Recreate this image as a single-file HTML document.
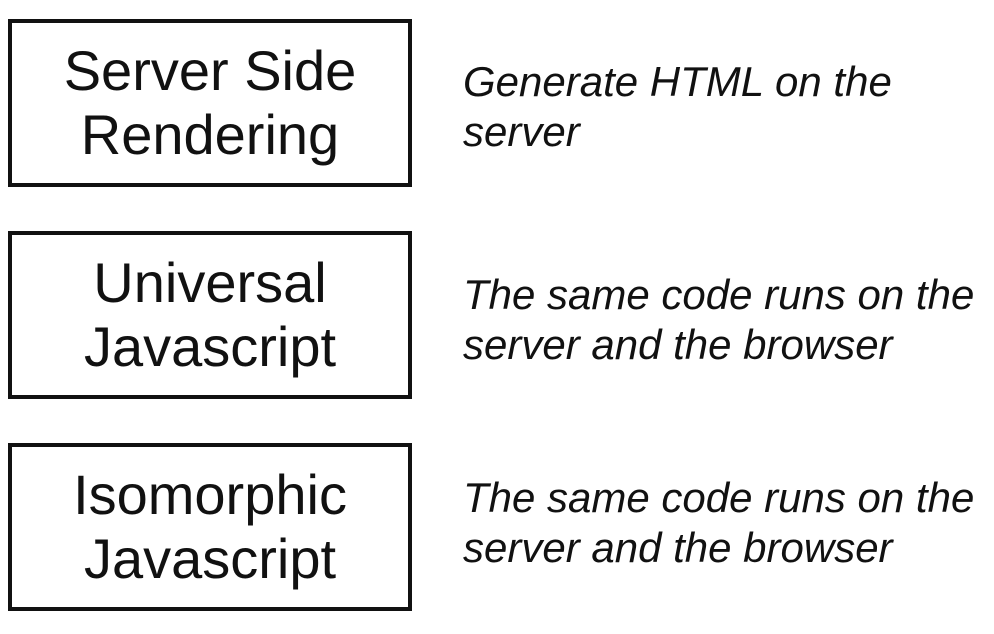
<!DOCTYPE html>
<html><head><style>
html,body{margin:0;padding:0;background:#fff;}
body{width:994px;height:634px;position:relative;overflow:hidden;font-family:"Liberation Sans",Arial,sans-serif;}
.box{position:absolute;left:8px;width:396px;height:160px;border:4px solid #111;display:flex;align-items:center;justify-content:center;text-align:center;font-size:56px;line-height:64px;color:#111;box-sizing:content-box;}
.desc{position:absolute;left:463px;font-style:italic;font-size:42px;line-height:50px;color:#111;white-space:nowrap;}
</style></head><body>
<div class="box" style="top:19px;">Server Side<br>Rendering</div>
<div class="box" style="top:231px;">Universal<br>Javascript</div>
<div class="box" style="top:443px;">Isomorphic<br>Javascript</div>
<div class="desc" style="top:57px;">Generate HTML on the<br>server</div>
<div class="desc" style="top:270px;">The same code runs on the<br>server and the browser</div>
<div class="desc" style="top:473px;">The same code runs on the<br>server and the browser</div>
</body></html>
